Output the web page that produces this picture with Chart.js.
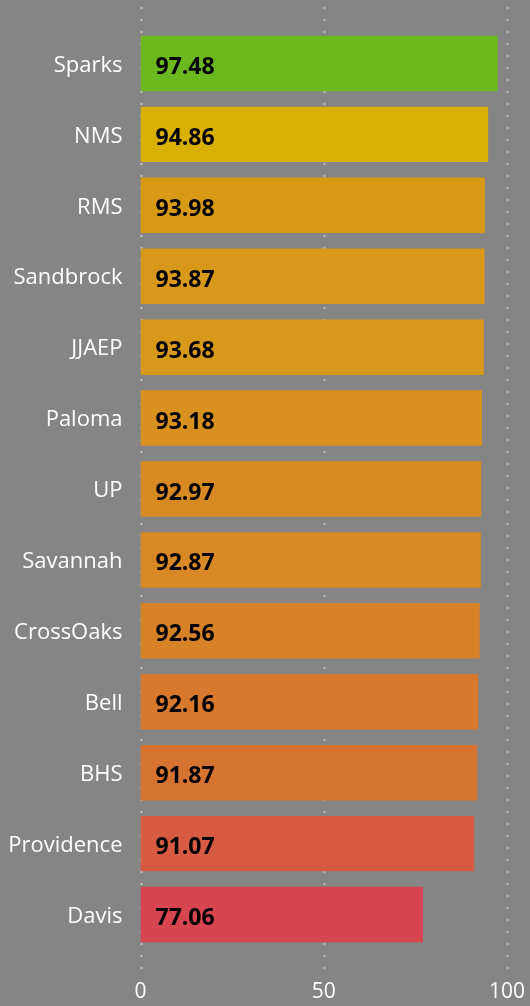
<!DOCTYPE html>
<html>
<head>
<meta charset="utf-8">
<script src="https://cdn.jsdelivr.net/npm/chart.js@4.4.1/dist/chart.umd.min.js"></script>
<style>
    html, body { margin: 0; padding: 0; background: #858585; }
    #wrap { width: 530px; height: 1006px; position: relative; }
</style>
</head>
<body>
<div id="wrap"><canvas id="scores"></canvas></div>
<script>
var schools = ['Sparks', 'NMS', 'RMS', 'Sandbrock', 'JJAEP', 'Paloma', 'UP', 'Savannah', 'CrossOaks', 'Bell', 'BHS', 'Providence', 'Davis'];
var scores = [97.48, 94.86, 93.98, 93.87, 93.68, 93.18, 92.97, 92.87, 92.56, 92.16, 91.87, 91.07, 77.06];
var barColors = ['#6bb91f', '#d9b000', '#d89a14', '#d8991a', '#d8981a', '#d8901f', '#d88a22', '#d88824', '#d88228', '#d7782d', '#d77331', '#d65b42', '#d64550'];
var xTicks = [0, 50, 100];

(function () {
    'use strict';

    // dotted vertical guides, taller than the plot area
    var dottedGrid = {
        id: 'dottedGrid',
        beforeDatasetsDraw: function (chart) {
            var ctx = chart.ctx;
            var x = chart.scales.x;
            ctx.save();
            ctx.strokeStyle = 'rgba(205,205,205,0.85)';
            ctx.lineWidth = 2;
            ctx.setLineDash([2, 10]);
            xTicks.forEach(function (v) {
                var px = Math.round(x.getPixelForValue(v)) + 0.5;
                ctx.beginPath();
                ctx.moveTo(px, 7);
                ctx.lineTo(px, 972);
                ctx.stroke();
            });
            ctx.restore();
        }
    };

    // value written inside each bar, near its base
    var valueLabels = {
        id: 'valueLabels',
        afterDatasetsDraw: function (chart) {
            var ctx = chart.ctx;
            var meta = chart.getDatasetMeta(0);
            var x0 = chart.scales.x.getPixelForValue(0);
            ctx.save();
            ctx.fillStyle = '#000000';
            ctx.font = 'bold 23px "Open Sans"';
            ctx.textAlign = 'left';
            ctx.textBaseline = 'middle';
            meta.data.forEach(function (bar, i) {
                ctx.fillText(scores[i].toFixed(2), x0 + 15, bar.y + 4);
            });
            ctx.restore();
        }
    };

    new Chart(document.getElementById('scores'), {
        type: 'bar',
        data: {
            labels: schools,
            datasets: [{
                data: scores,
                backgroundColor: barColors,
                borderWidth: 0,
                categoryPercentage: 1,
                barPercentage: 0.782
            }]
        },
        options: {
            indexAxis: 'y',
            responsive: true,
            maintainAspectRatio: false,
            animation: false,
            layout: { padding: { top: 28, right: 23, left: 0, bottom: 0 } },
            plugins: { legend: { display: false }, tooltip: { enabled: false } },
            scales: {
                x: {
                    min: 0,
                    max: 100,
                    afterFit: function (scale) {
                        scale.height = 56;
                        scale.paddingLeft = 0;
                        scale.paddingRight = 0;
                    },
                    afterBuildTicks: function (scale) {
                        scale.ticks = xTicks.map(function (v) { return { value: v }; });
                    },
                    grid: { display: false, drawTicks: false },
                    border: { display: false },
                    ticks: { color: '#ffffff', font: { family: 'Open Sans', size: 21 }, padding: 29, maxRotation: 0 }
                },
                y: {
                    afterFit: function (scale) {
                        scale.width = 140.5;
                        scale.paddingTop = 0;
                        scale.paddingBottom = 0;
                    },
                    grid: { display: false, drawTicks: false },
                    border: { display: false },
                    ticks: { color: '#ffffff', font: { family: 'Open Sans', size: 22 }, padding: 18, labelOffset: 2 }
                }
            }
        },
        plugins: [dottedGrid, valueLabels]
    });
})();
</script>
</body>
</html>
